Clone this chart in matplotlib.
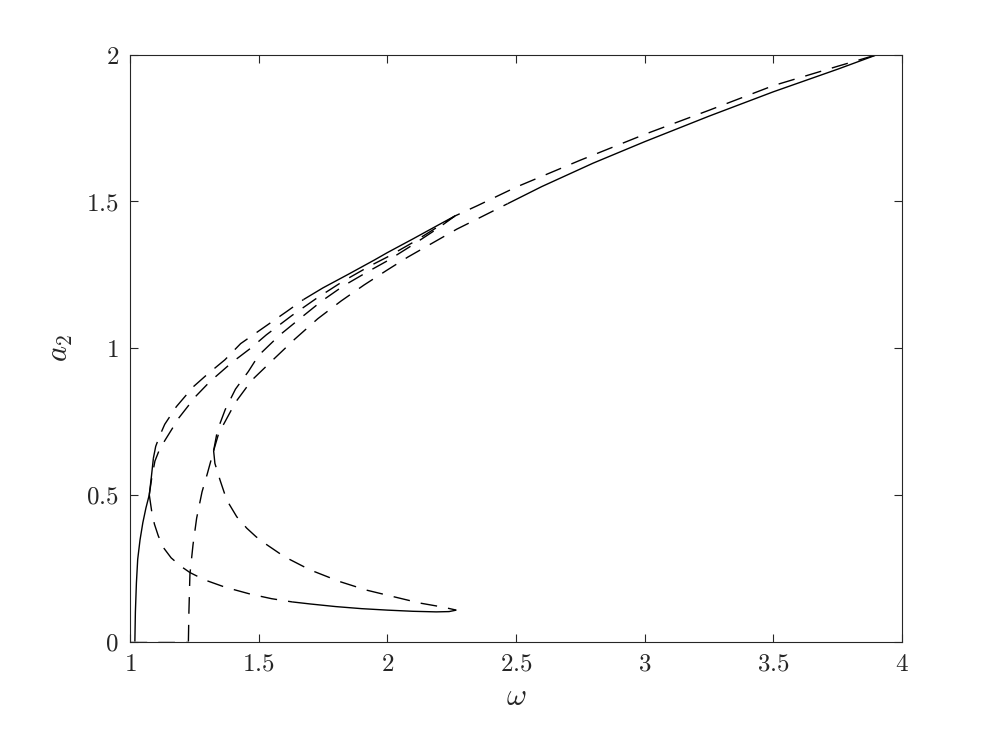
import numpy as np
import matplotlib
matplotlib.use('Agg')
import matplotlib.pyplot as plt

plt.rcParams['mathtext.fontset'] = 'cm'
plt.rcParams['font.family'] = 'serif'

# trivial branch (a2 = 0), unstable part
triv_w = [1.0, 1.227]
triv_a = [0.0, 0.0]

# left branch rising from a2 = 0, solid up to the first junction and a bit beyond
L0_w = [1.019, 1.021, 1.025, 1.030, 1.039, 1.050, 1.062, 1.075, 1.083, 1.091]
L0_a = [0.0, 0.10, 0.20, 0.28, 0.346, 0.405, 0.455, 0.50, 0.56, 0.625]

# outer upper branch from junction 1 (dashed part, then stable part to the fold)
U1d_w = [1.091, 1.10, 1.115, 1.135, 1.18, 1.246, 1.30, 1.369, 1.43, 1.52, 1.61, 1.674]
U1d_a = [0.625, 0.665, 0.70, 0.74, 0.80, 0.868, 0.91, 0.96, 1.015, 1.07, 1.125, 1.165]
U1s_w = [1.674, 1.75, 1.85, 1.95, 2.0, 2.1, 2.2, 2.263]
U1s_a = [1.165, 1.205, 1.252, 1.30, 1.325, 1.372, 1.42, 1.45]

# inner upper branch from junction 1, runs through the fold point to the top
U2_w = [1.075, 1.085, 1.097, 1.115, 1.137, 1.19, 1.255, 1.31, 1.395, 1.47, 1.53,
        1.628, 1.726, 1.829, 1.933, 2.0, 2.1, 2.2, 2.263, 2.35, 2.5, 2.75, 3.0,
        3.25, 3.5, 3.75, 3.905]
U2_a = [0.50, 0.56, 0.615, 0.655, 0.687, 0.762, 0.835, 0.885, 0.95, 1.0, 1.045,
        1.11, 1.17, 1.228, 1.28, 1.31, 1.36, 1.415, 1.45, 1.485, 1.548, 1.64, 1.728,
        1.81, 1.894, 1.96, 2.0]

# branch rising from a2 = 0 at the right edge of the tongue to junction 2
R0_w = [1.227, 1.229, 1.233, 1.245, 1.259, 1.28, 1.30, 1.325]
R0_a = [0.0, 0.10, 0.23, 0.33, 0.42, 0.51, 0.57, 0.65]

# upper branches from junction 2
U3_w = [1.325, 1.34, 1.37, 1.41, 1.46, 1.50, 1.583, 1.667, 1.745, 1.83, 1.92,
        2.0, 2.1, 2.2, 2.263]
U3_a = [0.65, 0.72, 0.79, 0.86, 0.92, 0.975, 1.045, 1.105, 1.16, 1.212, 1.258,
        1.297, 1.352, 1.41, 1.45]
U4d_w = [1.325, 1.345, 1.37, 1.41, 1.473, 1.55, 1.64, 1.73, 1.82, 1.91, 2.0,
         2.08, 2.17, 2.27, 2.35, 2.468]
U4d_a = [0.65, 0.71, 0.75, 0.815, 0.89, 0.955, 1.03, 1.10, 1.16, 1.215, 1.266,
         1.31, 1.355, 1.405, 1.44, 1.492]
U4s_w = [2.468, 2.6, 2.8, 3.0, 3.25, 3.5, 3.75, 3.905]
U4s_a = [1.492, 1.55, 1.63, 1.703, 1.79, 1.873, 1.95, 2.0]

# lower branches to the low-amplitude fold
B1d_w = [1.075, 1.085, 1.095, 1.11, 1.13, 1.16, 1.20, 1.233, 1.29, 1.37, 1.466,
         1.55, 1.63]
B1d_a = [0.50, 0.44, 0.40, 0.36, 0.32, 0.285, 0.255, 0.235, 0.21, 0.185, 0.162,
         0.146, 0.135]
B1s_w = [1.63, 1.70, 1.80, 1.90, 2.0, 2.1, 2.19, 2.24, 2.268]
B1s_a = [0.135, 0.128, 0.119, 0.112, 0.107, 0.103, 0.101, 0.102, 0.107]
B2_w = [1.325, 1.33, 1.35, 1.376, 1.415, 1.454, 1.49, 1.518, 1.60, 1.70, 1.816,
        1.92, 2.023, 2.127, 2.218, 2.268]
B2_a = [0.65, 0.607, 0.55, 0.482, 0.425, 0.386, 0.357, 0.338, 0.289, 0.244, 0.204,
        0.175, 0.153, 0.131, 0.117, 0.107]

xticks = [1, 1.5, 2, 2.5, 3, 3.5, 4]
yticks = [0, 0.5, 1, 1.5, 2]

fig = plt.figure(figsize=(9.96, 7.47), dpi=100)
ax = fig.add_axes([0.1305, 0.1412, 0.7751, 0.7858])

dash = (0, (12, 8))
lw = 1.0
solid = [(L0_w, L0_a), (U1s_w, U1s_a), (U4s_w, U4s_a), (B1s_w, B1s_a)]
dashed = [(triv_w, triv_a), (U1d_w, U1d_a), (U2_w, U2_a), (R0_w, R0_a),
          (U3_w, U3_a), (U4d_w, U4d_a), (B1d_w, B1d_a), (B2_w, B2_a)]
for w, a in solid:
    ax.plot(w, a, color='k', lw=lw, solid_capstyle='butt')
for w, a in dashed:
    ax.plot(w, a, color='k', lw=lw, linestyle=dash, dash_capstyle='butt')

ax.set_xlim(1, 4)
ax.set_ylim(0, 2)
ax.set_xticks(xticks)
ax.set_yticks(yticks)
ax.set_xticklabels([f'${v:g}$' for v in xticks])
ax.set_yticklabels([f'${v:g}$' for v in yticks])
ax.tick_params(direction='in', top=True, right=True, length=5.5, width=0.8,
               colors='#262626', labelsize=18, pad=8)
for s in ax.spines.values():
    s.set_linewidth(0.8)
    s.set_color('#262626')

ax.set_xlabel(r'$\omega$', fontsize=22, color='#262626', labelpad=4)
ax.set_ylabel(r'$a_2$', fontsize=22, color='#262626', labelpad=8)

fig.savefig('out.png', dpi=100)
